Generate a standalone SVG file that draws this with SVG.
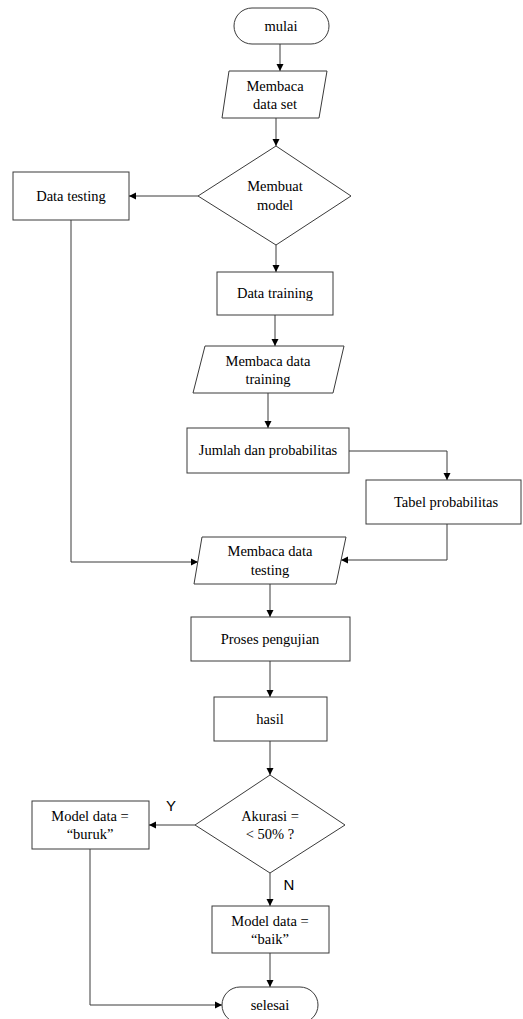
<svg xmlns="http://www.w3.org/2000/svg" width="523" height="1019" viewBox="0 0 523 1019">
<style>
.s{fill:#fff;stroke:#3a3a3a;stroke-width:1}
.t{font-family:"Liberation Serif","Times New Roman",serif;font-size:14.5px;fill:#000;text-anchor:middle}
.l{font-family:"Liberation Sans",Arial,sans-serif;font-size:15px;fill:#000;text-anchor:middle}
.c{fill:none;stroke:#3a3a3a;stroke-width:1;marker-end:url(#a)}
</style>
<defs>
<marker id="a" markerWidth="8" markerHeight="8" refX="7" refY="4" orient="auto" markerUnits="userSpaceOnUse">
<path d="M0,0.5 L7,4 L0,7.5 Z" fill="#000"/>
</marker>
</defs>
<rect width="523" height="1019" fill="#fff"/>
<g id="connectors">
<path class="c" d="M280,44 V71"/>
<path class="c" d="M276,118 V146"/>
<path class="c" d="M198,196 H129"/>
<path class="c" d="M276,245 V272"/>
<path class="c" d="M275,315 V346"/>
<path class="c" d="M268,393 V428"/>
<path class="c" d="M349,451 H447 V480"/>
<path class="c" d="M447,524 V560 H341"/>
<path class="c" d="M71,220 V562 H198"/>
<path class="c" d="M270,584 V617"/>
<path class="c" d="M270,661 V697"/>
<path class="c" d="M270,741 V775"/>
<path class="c" d="M195,825 H149"/>
<path class="c" d="M270,873 V906"/>
<path class="c" d="M270,953 V987"/>
<path class="c" d="M90,849 V1005 H222"/>
<text class="l" x="171" y="811">Y</text>
<text class="l" x="289" y="890">N</text>
</g>
<g id="mulai">
<rect class="s" x="234" y="8" width="95" height="36" rx="18"/>
<text class="t" x="281" y="31">mulai</text>
</g>
<g id="baca-dataset">
<path class="s" d="M229,71 H327 L319,118 H222 Z"/>
<text class="t" x="275" y="91">Membaca</text>
<text class="t" x="275" y="109">data set</text>
</g>
<g id="membuat-model">
<path class="s" d="M276,146 L351,196 L276,245 L198,196 Z"/>
<text class="t" x="275" y="191">Membuat</text>
<text class="t" x="275" y="210">model</text>
</g>
<g id="data-testing">
<rect class="s" x="13" y="172" width="116" height="48"/>
<text class="t" x="71" y="201">Data testing</text>
</g>
<g id="data-training">
<rect class="s" x="217" y="272" width="116" height="43"/>
<text class="t" x="275" y="298">Data training</text>
</g>
<g id="baca-training">
<path class="s" d="M205,346 H344 L333,393 H193 Z"/>
<text class="t" x="268" y="366">Membaca data</text>
<text class="t" x="268" y="384">training</text>
</g>
<g id="jumlah">
<rect class="s" x="187" y="428" width="162" height="45"/>
<text class="t" x="268" y="455">Jumlah dan probabilitas</text>
</g>
<g id="tabel">
<rect class="s" x="366" y="480" width="155" height="44"/>
<text class="t" x="446" y="507">Tabel probabilitas</text>
</g>
<g id="baca-testing">
<path class="s" d="M202,537 H346 L336,584 H194 Z"/>
<text class="t" x="270" y="556">Membaca data</text>
<text class="t" x="270" y="575">testing</text>
</g>
<g id="proses">
<rect class="s" x="191" y="617" width="159" height="44"/>
<text class="t" x="270" y="644">Proses pengujian</text>
</g>
<g id="hasil">
<rect class="s" x="214" y="697" width="113" height="44"/>
<text class="t" x="270" y="724">hasil</text>
</g>
<g id="akurasi">
<path class="s" d="M270,775 L345,825 L270,873 L195,825 Z"/>
<text class="t" x="270" y="821">Akurasi =</text>
<text class="t" x="270" y="839">&lt; 50% ?</text>
</g>
<g id="buruk">
<rect class="s" x="32" y="801" width="117" height="48"/>
<text class="t" x="90" y="821">Model data =</text>
<text class="t" x="90" y="839">“buruk”</text>
</g>
<g id="baik">
<rect class="s" x="212" y="906" width="117" height="47"/>
<text class="t" x="270" y="926">Model data =</text>
<text class="t" x="270" y="944">“baik”</text>
</g>
<g id="selesai">
<rect class="s" x="222" y="987" width="96" height="36" rx="18"/>
<text class="t" x="270" y="1010">selesai</text>
</g>
</svg>
